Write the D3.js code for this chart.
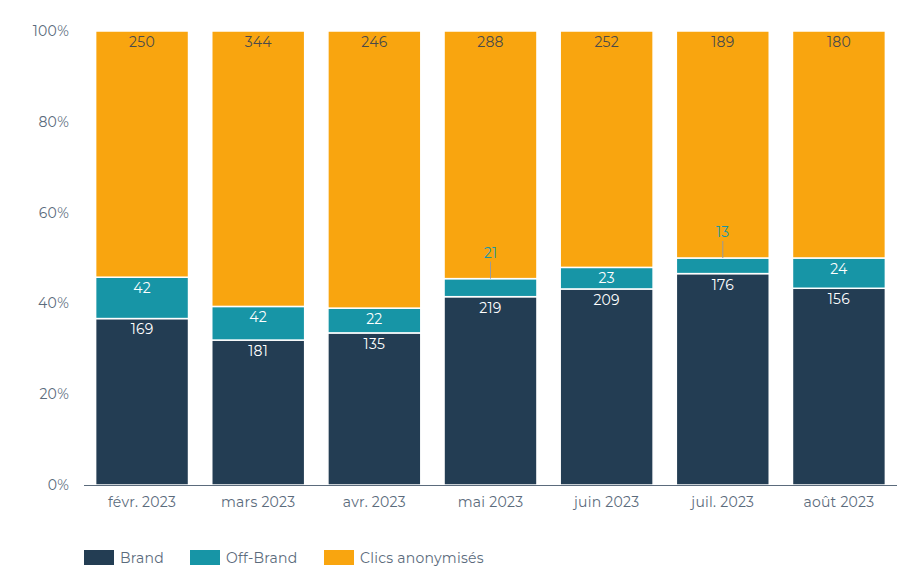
<!DOCTYPE html>
<html><head><meta charset="utf-8">
<script src="https://cdn.jsdelivr.net/npm/d3@7"></script>
<style>body{margin:0;background:#fff;font-family:Montserrat,"Open Sans","Noto Sans",sans-serif;} text{letter-spacing:0.25px;}</style>
</head><body><svg id="c" width="897" height="583"></svg>
<script>
const months = ["févr. 2023","mars 2023","avr. 2023","mai 2023","juin 2023","juil. 2023","août 2023"];
const brand = [169,181,135,219,209,176,156];
const offBrand = [42,42,22,21,23,13,24];
const anonymous = [250,344,246,288,252,189,180];
const seriesNames = ["Brand","Off-Brand","Clics anonymisés"];
const colors = ["#233d53","#1795a6","#f9a50f"];
const yTicks = [0,0.2,0.4,0.6,0.8,1];

const svg = d3.select("#c");
const x = d3.scaleBand().domain(months).range([84,897]).paddingInner(0.2).paddingOuter(0.1);
const y = d3.scaleLinear().domain([0,1]).range([485,31]);
const textCol = "#5b6b7c";

const rows = months.map((m,i)=>({month:m, b:brand[i], o:offBrand[i], a:anonymous[i]}));
const stack = d3.stack().keys(["b","o","a"]).offset(d3.stackOffsetExpand);
const layers = stack(rows);

svg.append("g").selectAll("text").data(yTicks).join("text")
  .attr("x",69).attr("y",d=>y(d)).attr("dy","0.35em").attr("text-anchor","end")
  .attr("font-size",14).attr("fill",textCol).text(d=>d3.format(".0%")(d));

layers.forEach((layer,li)=>{
  const g = svg.append("g");
  g.selectAll("rect").data(layer).join("rect")
    .attr("x",d=>x(d.data.month)).attr("width",x.bandwidth())
    .attr("y",d=>y(d[1])).attr("height",d=>y(d[0])-y(d[1]))
    .attr("fill",colors[li]).attr("stroke","#fff").attr("stroke-width",1.5);
});

layers.forEach((layer,li)=>{
  const g = svg.append("g");
  layer.forEach(d=>{
    const val = d.data[layer.key];
    const top = y(d[1]), h = y(d[0]) - y(d[1]);
    const cx = x(d.data.month) + x.bandwidth()/2;
    if (h < 20) {
      g.append("line").attr("x1",cx).attr("x2",cx).attr("y1",top-17).attr("y2",top)
        .attr("stroke","#9a9a9a").attr("stroke-width",1);
      g.append("text").attr("x",cx).attr("y",top-21).attr("text-anchor","middle")
        .attr("font-size",14).attr("fill",colors[li]).text(val);
    } else {
      g.append("text").attr("x",cx).attr("y",top+11).attr("dy","0.35em").attr("text-anchor","middle")
        .attr("font-size",14).attr("fill",li===2?"#4a4a4a":"#fff").text(val);
    }
  });
});

svg.append("line").attr("x1",84).attr("x2",897).attr("y1",485.5).attr("y2",485.5)
  .attr("stroke","#5b6b7c").attr("stroke-width",1);
svg.append("g").selectAll("text").data(months).join("text")
  .attr("x",d=>x(d)+x.bandwidth()/2).attr("y",502).attr("dy","0.35em").attr("text-anchor","middle")
  .attr("font-size",14).attr("fill",textCol).text(d=>d);

const legX = [84,190,324];
const lg = svg.append("g");
seriesNames.forEach((n,i)=>{
  lg.append("rect").attr("x",legX[i]).attr("y",550).attr("width",30).attr("height",15).attr("fill",colors[i]);
  lg.append("text").attr("x",legX[i]+36).attr("y",558).attr("dy","0.35em")
    .attr("font-size",14).attr("fill",textCol).text(n);
});
</script></body></html>
